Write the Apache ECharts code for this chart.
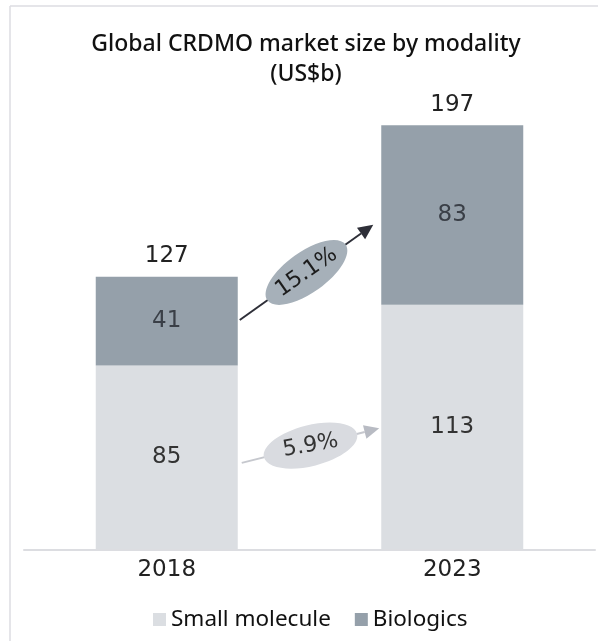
<!DOCTYPE html>
<html>
<head>
<meta charset="utf-8">
<script src="https://cdn.jsdelivr.net/npm/echarts@6/dist/echarts.min.js"></script>
<style>
  html, body { margin: 0; padding: 0; background: #fff; }
  #main { width: 598px; height: 641px; }
</style>
</head>
<body>
<div id="main"></div>
<script>
// data
var categories = ['2018', '2023'];
var smallMolecule = [85, 113];
var biologics = [41, 83];
var totals = [127, 197];
var cagrBiologics = '15.1%';
var cagrSmall = '5.9%';

var numFont = 'DejaVu Sans';
var txtFont = 'Noto Sans';

var chart = echarts.init(document.getElementById('main'), null, { renderer: 'canvas' });

chart.setOption({
  animation: false,
  backgroundColor: '#fff',
  title: {
    text: 'Global CRDMO market size by modality\n(US$b)',
    left: 306,
    textAlign: 'center',
    top: 29,
    padding: 0,
    textStyle: {
      fontFamily: txtFont,
      fontSize: 23,
      fontWeight: 500,
      lineHeight: 30,
      color: '#111'
    }
  },
  legend: {
    data: ['Small molecule', 'Biologics'],
    bottom: 5,
    left: 148,
    itemWidth: 13,
    itemHeight: 13,
    itemGap: 24,
    icon: 'rect',
    textStyle: { fontFamily: txtFont, fontSize: 22.5, color: '#111' }
  },
  grid: { left: 24, right: 3, top: 116.5, bottom: 91.5 },
  xAxis: {
    type: 'category',
    data: categories,
    axisTick: { show: false },
    axisLine: { lineStyle: { color: '#dcdde1', width: 2 } },
    axisLabel: { fontFamily: numFont, fontSize: 23, color: '#222', margin: 9 }
  },
  yAxis: {
    type: 'value',
    min: 0,
    max: 200,
    show: false,
    splitLine: { show: false }
  },
  series: [
    {
      name: 'Small molecule',
      type: 'bar',
      stack: 'total',
      barWidth: 142,
      data: smallMolecule,
      itemStyle: { color: '#dbdee2' },
      label: { show: true, position: 'inside', fontFamily: numFont, fontSize: 23, color: '#333' }
    },
    {
      name: 'Biologics',
      type: 'bar',
      stack: 'total',
      barWidth: 142,
      data: biologics,
      itemStyle: { color: '#95a0aa' },
      label: { show: true, position: 'inside', fontFamily: numFont, fontSize: 23, color: '#3a3f47' }
    },
    {
      name: 'Total',
      type: 'bar',
      stack: 'total',
      barWidth: 142,
      silent: true,
      data: totals.map(function () { return 0; }),
      itemStyle: { color: 'transparent' },
      label: {
        show: true,
        position: 'top',
        distance: 9,
        fontFamily: numFont,
        fontSize: 23,
        color: '#222',
        formatter: function (p) { return totals[p.dataIndex]; }
      }
    }
  ]
});

// annotation arrows with CAGR ellipses
function px(cat, side, val) {
  var cx = chart.convertToPixel({ xAxisIndex: 0 }, cat);
  var y = chart.convertToPixel({ yAxisIndex: 0 }, val);
  return [cx + side, y];
}

function arrow(p1, p2, lineColor, headColor, ellColor, text, textColor, textRot) {
  var dx = p2[0] - p1[0], dy = p2[1] - p1[1];
  var len = Math.sqrt(dx * dx + dy * dy);
  var ux = dx / len, uy = dy / len;
  var hl = 15, hw = 7;
  var base = [p2[0] - ux * hl, p2[1] - uy * hl];
  var ang = Math.atan2(-dy, dx);
  var mid = [(p1[0] + p2[0]) / 2, (p1[1] + p2[1]) / 2];
  return [
    {
      type: 'line',
      shape: { x1: p1[0], y1: p1[1], x2: base[0], y2: base[1] },
      style: { stroke: lineColor, lineWidth: 2 },
      z: 10
    },
    {
      type: 'polygon',
      shape: { points: [p2, [base[0] - uy * hw, base[1] + ux * hw], [base[0] + uy * hw, base[1] - ux * hw]] },
      style: { fill: headColor },
      z: 10
    },
    {
      type: 'ellipse',
      x: mid[0],
      y: mid[1],
      rotation: ang,
      shape: { cx: 0, cy: 0, rx: 48, ry: 20.5 },
      style: { fill: ellColor },
      z: 11
    },
    {
      type: 'text',
      x: mid[0],
      y: mid[1],
      rotation: textRot,
      style: {
        text: text, x: 0, y: 0, align: 'center', verticalAlign: 'middle',
        fontFamily: numFont, fontSize: 22, fill: textColor
      },
      z: 12
    }
  ];
}

var g = [];
var a1 = [px(0, 73, 106), px(1, -79, 150)];
var a2 = [px(0, 75, 40), px(1, -73, 56)];
g = g.concat(arrow(a1[0], a1[1], '#2e2f38', '#2e2f38', '#a6b0b9', cagrBiologics, '#1c1c1c', 35 * Math.PI / 180));
g = g.concat(arrow(a2[0], a2[1], '#c6c8ce', '#b8bbc3', '#d9dbe0', cagrSmall, '#333', 10 * Math.PI / 180));
// frame
g.push({ type: 'line', shape: { x1: 10, y1: 6, x2: 10, y2: 641 }, style: { stroke: '#dcdce2', lineWidth: 1.5 } });
g.push({ type: 'line', shape: { x1: 10, y1: 6, x2: 598, y2: 6 }, style: { stroke: '#dcdce2', lineWidth: 1.5 } });

chart.setOption({ graphic: g });
</script>
</body>
</html>
